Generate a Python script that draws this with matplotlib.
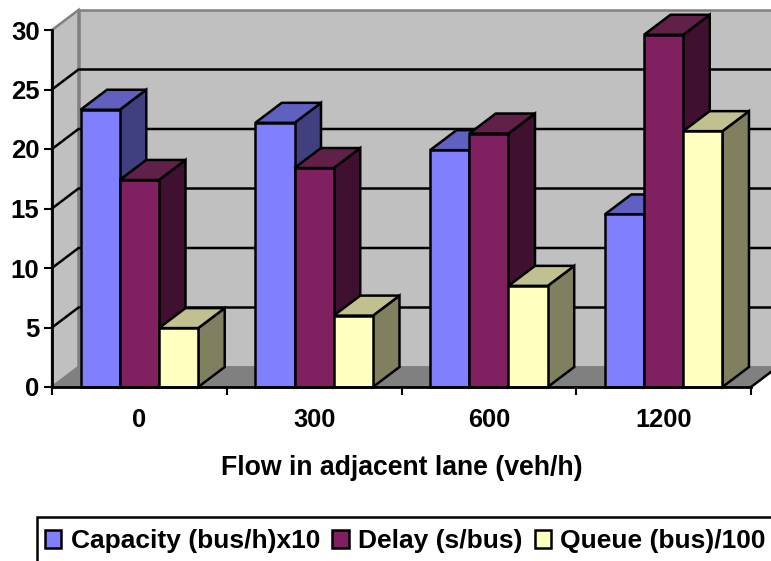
import matplotlib
matplotlib.use("Agg")
import matplotlib.pyplot as plt
from matplotlib.patches import Polygon, Patch, Rectangle

categories = ["0", "300", "600", "1200"]
capacity = [23.3, 22.2, 19.9, 14.5]
delay = [17.4, 18.4, 21.3, 29.6]
queue = [4.95, 6.0, 8.5, 21.5]
series_names = ["Capacity (bus/h)x10", "Delay (s/bus)", "Queue (bus)/100"]
y_ticks = [0, 5, 10, 15, 20, 25, 30]

front = ["#8080FF", "#802060", "#FFFFC0"]
top = ["#6060C0", "#602048", "#C0C090"]
side = ["#404080", "#401030", "#808060"]

plt.rcParams["font.family"] = ["Liberation Sans", "DejaVu Sans"]
plt.rcParams["font.weight"] = "bold"

W, H = 771, 561
fig = plt.figure(figsize=(W / 100, H / 100), dpi=100)
L, R, B, T = 52, 751, 387, 30
ax = fig.add_axes([L / W, (H - B) / H, (R - L) / W, (B - T) / H])
ax.set_xlim(0, 4)
ax.set_ylim(0, 30)
ax.patch.set_visible(False)

px = (R - L) / 4
py = (B - T) / 30
dx = 26.5 / px
dy = 20 / py
lw = 1.8


def poly(points, fc, ec, z, lw_=lw):
    ax.add_patch(Polygon(points, closed=True, facecolor=fc, edgecolor=ec,
                         linewidth=lw_, zorder=z, clip_on=False, joinstyle="miter"))


# walls and floor
poly([(dx, dy), (4 + dx, dy), (4 + dx, 30 + dy), (dx, 30 + dy)], "#C0C0C0", "#808080", 1)
poly([(0, 0), (dx, dy), (dx, 30 + dy), (0, 30)], "#C0C0C0", "#808080", 1)
poly([(0, 0), (4, 0), (4 + dx, dy), (dx, dy)], "#808080", "#808080", 1.5, 1)

# gridlines on the walls
for v in y_ticks[1:-1]:
    ax.plot([0, dx, 4 + dx], [v, v + dy, v + dy], color="black", lw=lw, zorder=2,
            clip_on=False, solid_joinstyle="miter")
ax.plot([4, 4 + dx], [0, dy], color="black", lw=lw, zorder=2, clip_on=False)

# bars
bw = 0.2245
z = 3
for c in range(len(categories)):
    for s, vals in enumerate([capacity, delay, queue]):
        v = vals[c]
        x0 = c + 0.5 + (s - 1.5) * bw
        x1 = x0 + bw
        poly([(x1, 0), (x1 + dx, dy), (x1 + dx, v + dy), (x1, v)], side[s], "black", z)
        poly([(x0, v), (x1, v), (x1 + dx, v + dy), (x0 + dx, v + dy)], top[s], "black", z)
        ax.bar(x0, v, width=bw, align="edge", color=front[s], edgecolor="black",
               linewidth=lw, zorder=z, clip_on=False)
        z += 1

# axes
for sp in ["top", "right"]:
    ax.spines[sp].set_visible(False)
for sp in ["left", "bottom"]:
    ax.spines[sp].set_linewidth(2)
    ax.spines[sp].set_zorder(50)
ax.set_yticks(y_ticks)
ax.set_xticks([0, 1, 2, 3, 4])
ax.set_xticklabels([])
ax.set_xticks([i + 0.5 for i in range(4)], minor=True)
ax.set_xticklabels(categories, minor=True)
ax.tick_params(axis="y", which="major", length=6, width=1.5, pad=3, labelsize=18.5)
ax.tick_params(axis="x", which="major", length=6, width=1.5)
ax.tick_params(axis="x", which="minor", length=0, pad=15, labelsize=18.3)
ax.set_xlabel("Flow in adjacent lane (veh/h)", fontsize=19.2, fontweight="bold", labelpad=17)

# legend box runs off the bottom and right of the picture, as in the reference
fig.add_artist(Rectangle((37 / W, -20 / H), 760 / W, (H - 517 + 20) / H,
                         transform=fig.transFigure, facecolor="white", edgecolor="black",
                         linewidth=1.8, zorder=5))
handles = [Patch(facecolor=front[i], edgecolor="black", linewidth=lw) for i in range(3)]
leg = fig.legend(handles, series_names, loc="upper left",
                 bbox_to_anchor=(37 / W, (H - 521) / H), bbox_transform=fig.transFigure,
                 ncol=3, fontsize=19, frameon=False, borderaxespad=0,
                 borderpad=0.3, handlelength=0.62, handleheight=0.68, handletextpad=0.35,
                 columnspacing=0.47)
leg.set_zorder(6)

fig.savefig("out.png", dpi=100)
